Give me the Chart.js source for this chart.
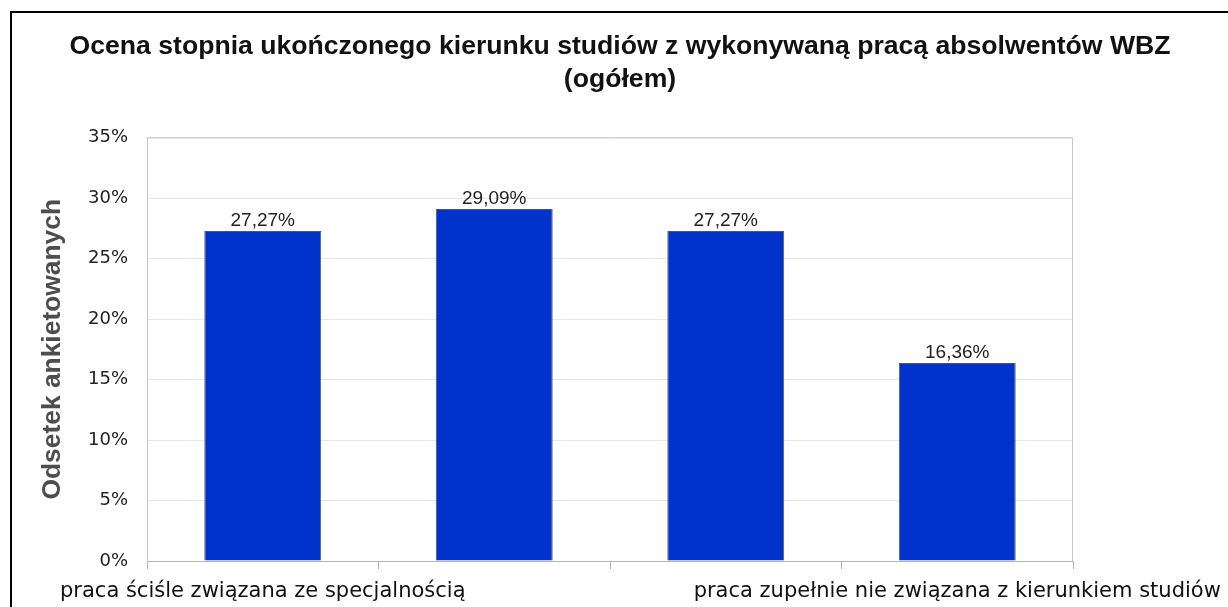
<!DOCTYPE html>
<html lang="pl">
<head>
<meta charset="utf-8">
<script src="https://cdn.jsdelivr.net/npm/chart.js@4"></script>
<style>
  html, body { margin: 0; padding: 0; background: #fff; overflow: hidden; }
  #box {
    position: absolute; left: 10px; top: 11px;
    width: 1216px; height: 594px;
    border-left: 2px solid #000; border-top: 2px solid #000;
  }
</style>
</head>
<body>
<div id="box"><canvas id="wykres"></canvas></div>
<script>
// dane z wykresu
const categories = [
  "praca ściśle związana ze specjalnością",
  "praca związana z kierunkiem studiów",
  "praca częściowo związana z kierunkiem studiów",
  "praca zupełnie nie związana z kierunkiem studiów",
];
const values = [27.27, 29.09, 27.27, 16.36];
const yTicks = [0, 5, 10, 15, 20, 25, 30, 35];
const titleLines = [
  "Ocena stopnia ukończonego kierunku studiów z wykonywaną pracą absolwentów WBZ",
  "(ogółem)",
];
const yTitle = "Odsetek ankietowanych";

// etykiety nad słupkami
const barLabels = {
  id: "barLabels",
  afterDatasetsDraw(chart) {
    const ctx = chart.ctx;
    const meta = chart.getDatasetMeta(0);
    ctx.save();
    ctx.font = "19px 'Liberation Sans', Arial, sans-serif";
    ctx.fillStyle = "#222";
    ctx.textAlign = "center";
    ctx.textBaseline = "bottom";
    meta.data.forEach((bar, i) => {
      const txt = values[i].toFixed(2).replace(".", ",") + "%";
      ctx.fillText(txt, bar.x, bar.y - 1);
    });
    ctx.restore();
  },
};

// ramka obszaru wykresu
const plotBorder = {
  id: "plotBorder",
  beforeDatasetsDraw(chart) {
    const a = chart.chartArea;
    const ctx = chart.ctx;
    ctx.save();
    ctx.strokeStyle = "#c8c8c8";
    ctx.lineWidth = 1;
    ctx.beginPath();
    ctx.moveTo(a.left + 0.5, a.bottom);
    ctx.lineTo(a.left + 0.5, a.top + 0.5);
    ctx.lineTo(a.right - 0.5, a.top + 0.5);
    ctx.lineTo(a.right - 0.5, a.bottom);
    ctx.stroke();
    ctx.restore();
  },
};

new Chart(document.getElementById("wykres"), {
  type: "bar",
  data: {
    labels: categories,
    datasets: [
      {
        data: values,
        backgroundColor: "#0033cc",
        borderColor: "#555555",
        borderWidth: 1,
        categoryPercentage: 1,
        barPercentage: 0.505,
      },
    ],
  },
  options: {
    responsive: true,
    maintainAspectRatio: false,
    animation: false,
    layout: {
      padding: { left: 0, right: 0, top: 0, bottom: 0 },
    },
    plugins: {
      legend: { display: false },
      tooltip: { enabled: false },
      title: {
        display: true,
        text: titleLines,
        color: "#111",
        font: { family: "'Liberation Sans', Arial, sans-serif", size: 26.6, weight: "bold", lineHeight: 1.25 },
        padding: { top: 17, bottom: 41 },
      },
    },
    scales: {
      x: {
        afterFit: (scale) => {
          scale.paddingLeft = 0;
          scale.paddingRight = 0;
          scale.height = 46;
        },
        grid: {
          offset: true,
          drawOnChartArea: false,
          drawTicks: true,
          tickLength: 8,
          color: "#b4b4b4",
        },
        border: { color: "#b4b4b4" },
        ticks: {
          autoSkip: false,
          maxRotation: 0,
          minRotation: 0,
          padding: 12,
          color: "#111",
          font: { family: "'DejaVu Sans', sans-serif", size: 21, lineHeight: 1 },
          callback: function (value, index) {
            return index === 0 || index === categories.length - 1 ? this.getLabelForValue(value) : "";
          },
        },
      },
      y: {
        min: yTicks[0],
        max: yTicks[yTicks.length - 1],
        afterBuildTicks: (scale) => {
          scale.ticks = yTicks.map((v) => ({ value: v }));
        },
        afterFit: (scale) => {
          scale.width = 135;
        },
        grid: {
          drawTicks: false,
          color: "#e6e6e6",
        },
        border: { color: "#c8c8c8" },
        ticks: {
          padding: 19,
          color: "#222",
          font: { family: "'DejaVu Sans', sans-serif", size: 18 },
          callback: (v) => v + "%",
        },
        title: {
          display: true,
          text: yTitle,
          color: "#4d4d4d",
          font: { family: "'Liberation Sans', Arial, sans-serif", size: 26.4, weight: "bold" },
          padding: { top: 25, bottom: 0 },
        },
      },
      // pusta oś po prawej - margines jak w oryginale
      yPrawa: {
        position: "right",
        display: true,
        afterFit: (scale) => {
          scale.width = 155;
        },
        grid: { display: false },
        border: { display: false },
        ticks: { display: false },
      },
    },
  },
  plugins: [plotBorder, barLabels],
});
</script>
</body>
</html>
